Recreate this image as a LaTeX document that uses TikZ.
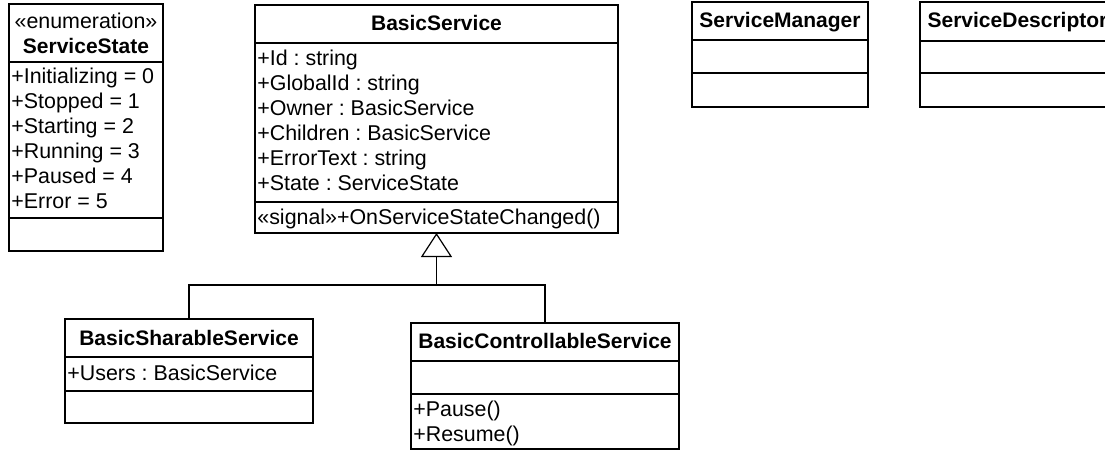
\documentclass[tikz,border=0pt]{standalone}
\usepackage{fontspec}
\setmainfont{Liberation Sans}
\usetikzlibrary{arrows.meta}
\frenchspacing
\begin{document}
\begin{tikzpicture}[x=0.5pt,y=-0.5pt,
  classbox/.style={draw, line width=0.9pt, rectangle, inner sep=0pt, outer sep=0pt, anchor=north west},
  compart/.style={line width=0.9pt},
  cname/.style={anchor=base, inner sep=0pt, font=\fontsize{10.5}{12.5}\selectfont\bfseries},
  stereo/.style={anchor=base, inner sep=0pt, font=\fontsize{10.7}{12.5}\selectfont},
  member/.style={anchor=base west, inner sep=0pt, font=\fontsize{10.7}{12.5}\selectfont},
  link/.style={line width=0.6pt},
  inherit/.style={line width=0.6pt, -{Triangle[open, length=12pt, width=15.5pt]}}
]
\useasboundingbox (0,0) rectangle (1105,450);
\clip (0,0) rectangle (1105,450);

% ---- ServiceState (enumeration)
\node[classbox, minimum width=77pt, minimum height=123.5pt] (ss) at (9,4) {};
\draw[compart] (ss.west |- 0,62) -- (ss.east |- 0,62);
\draw[compart] (ss.west |- 0,218) -- (ss.east |- 0,218);
\node[stereo] (ss-st) at (86,28.5) {«enumeration»};
\node[cname] (ss-n) at (86,53.3) {ServiceState};
\node[member] (ss-a1) at (11,83) {+Initializing = 0};
\node[member] (ss-a2) at (11,108) {+Stopped = 1};
\node[member] (ss-a3) at (11,133) {+Starting = 2};
\node[member] (ss-a4) at (11,158) {+Running = 3};
\node[member] (ss-a5) at (11,183) {+Paused = 4};
\node[member] (ss-a6) at (11,208) {+Error = 5};

% ---- BasicService
\node[classbox, minimum width=181.5pt, minimum height=114pt] (bs) at (255,5) {};
\draw[compart] (bs.west |- 0,43) -- (bs.east |- 0,43);
\draw[compart] (bs.west |- 0,202) -- (bs.east |- 0,202);
\node[cname] (bs-n) at (436.5,30) {BasicService};
\node[member] (bs-a1) at (257,65) {+Id : string};
\node[member] (bs-a2) at (257,90) {+GlobalId : string};
\node[member] (bs-a3) at (257,115) {+Owner : BasicService};
\node[member] (bs-a4) at (257,140) {+Children : BasicService};
\node[member] (bs-a5) at (257,165) {+ErrorText : string};
\node[member] (bs-a6) at (257,190) {+State : ServiceState};
\node[member] (bs-o1) at (257,224) {«signal»+OnServiceStateChanged()};

% ---- ServiceManager
\node[classbox, minimum width=88pt, minimum height=52.5pt] (sm) at (692,2) {};
\draw[compart] (sm.west |- 0,40) -- (sm.east |- 0,40);
\draw[compart] (sm.west |- 0,73) -- (sm.east |- 0,73);
\node[cname] (sm-n) at (780,27.3) {ServiceManager};

% ---- ServiceDescriptor
\node[classbox, minimum width=97.5pt, minimum height=52.5pt] (sd) at (920,2) {};
\draw[compart] (sd.west |- 0,41) -- (sd.east |- 0,41);
\draw[compart] (sd.west |- 0,73) -- (sd.east |- 0,73);
\node[cname] (sd-n) at (1017.5,27.3) {ServiceDescriptor};

% ---- BasicSharableService
\node[classbox, minimum width=124pt, minimum height=52pt] (shs) at (65,319) {};
\draw[compart] (shs.west |- 0,357) -- (shs.east |- 0,357);
\draw[compart] (shs.west |- 0,391) -- (shs.east |- 0,391);
\node[cname] (shs-n) at (189,345) {BasicSharableService};
\node[member] (shs-a1) at (67,380) {+Users : BasicService};

% ---- BasicControllableService
\node[classbox, minimum width=134pt, minimum height=63pt] (cts) at (411,323) {};
\draw[compart] (cts.west |- 0,361) -- (cts.east |- 0,361);
\draw[compart] (cts.west |- 0,394) -- (cts.east |- 0,394);
\node[cname] (cts-n) at (545,348) {BasicControllableService};
\node[member] (cts-o1) at (413,416.7) {+Pause()};
\node[member] (cts-o2) at (413,441.7) {+Resume()};

% ---- generalisation tree
\coordinate (fork) at (436.5,285);
\draw[link] (shs.north) |- (fork) -| (cts.north);
\draw[inherit] (fork) -- (bs.south);
\end{tikzpicture}
\end{document}
